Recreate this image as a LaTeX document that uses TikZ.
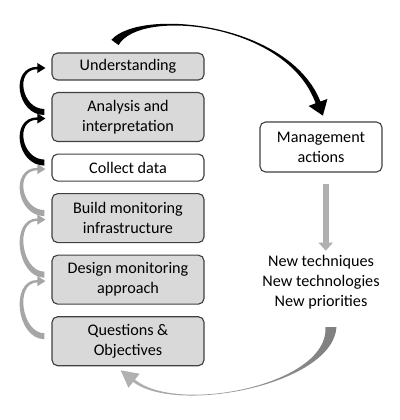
\documentclass[tikz,border=0pt]{standalone}
\usepackage{fontspec}
\setmainfont{Carlito}
\usetikzlibrary{arrows.meta, positioning, calc}
\definecolor{boxgray}{HTML}{D9D9D9}
\definecolor{edgegray}{HTML}{404040}
\definecolor{arcgray}{HTML}{A6A6A6}
\definecolor{lightarc}{HTML}{B0B0B0}
\tikzset{
  stage/.style={draw=edgegray, line width=0.8pt, rounded corners=4pt, fill=boxgray, minimum width=3.8cm, minimum height=0.675cm, align=center, inner sep=2pt, font=\fontsize{11.5pt}{14.2pt}\selectfont},
  stagetwo/.style={stage, minimum height=1.225cm},
  plain/.style={stage, fill=white},
  note/.style={align=center, font=\fontsize{11.5pt}{14.2pt}\selectfont},
  vline/.style={-{Triangle[width=10pt, length=5.7pt]}, line width=4.2pt, draw=lightarc},
}
\newcommand{\backarc}[3]{%
  \fill[#3] ($(#1.west)+(-7,-2)$)
    .. controls +(-28,0) and +(-28,0) .. ($(#2.west)+(-14,0.3)$)
    -- ($(#2.west)+(-14,-3.5)$) -- ($(#2.west)+(-6,1.5)$) -- ($(#2.west)+(-14,6.5)$)
    -- ($(#2.west)+(-14,2.7)$)
    .. controls +(-23,0) and +(-23,0) .. ($(#1.west)+(-7,-8)$) -- cycle;}

\begin{document}
\begin{tikzpicture}[x=0.025cm, y=-0.025cm, node distance=0.285cm]
  \useasboundingbox (0,0) rectangle (400,420);
  \node[stage] (und) at (128,66.5) {Understanding};
  \node[stagetwo, below=of und] (ana) {Analysis and\\interpretation};
  \node[plain, below=of ana] (col) {Collect data};
  \node[stagetwo, below=of col] (bld) {Build monitoring\\infrastructure};
  \node[stagetwo, below=of bld] (dsg) {Design monitoring\\approach};
  \node[stagetwo, below=of dsg] (qst) {Questions \&\\Objectives};
  \node[plain, minimum width=3.05cm, minimum height=1.25cm] (mgmt) at (321,147) {Management\\actions};
  \node[note] (newitems) at (321,282.5) {New techniques\\New technologies\\New priorities};
  \coordinate (loopstart) at (331,327);

  \backarc{ana}{und}{black}
  \backarc{col}{ana}{black}
  \backarc{bld}{col}{arcgray}
  \backarc{dsg}{bld}{arcgray}
  \backarc{qst}{dsg}{arcgray}

  \fill[black] ($(und.north)+(-16.6,-12.6)$)
    .. controls +(28.6,-32.4) and +(-31.5,-79.5) .. ($(mgmt.north)+(-0.6,-19.9)$)
    -- ($(mgmt.north)+(6.4,-22.5)$) -- ($(mgmt.north)+(1.9,-5.8)$) -- ($(mgmt.north)+(-12.4,-15.5)$)
    -- ($(mgmt.north)+(-5.4,-18.1)$)
    .. controls +(-28.5,-80.5) and +(21.4,-37.6) .. ($(und.north)+(-9.4,-7.4)$) -- cycle;

  \draw[vline] ($(mgmt.south)+(4.7,11)$) -- ($(newitems.north)+(4.7,0)$);

  \shade[left color=black!30, right color=black!50] ($(loopstart)+(5.5,0)$)
    .. controls +(-3.75,58) and +(43.9,32.8) .. ($(qst.south)+(5.1,15.7)$)
    -- ($(qst.south)+(0.4,21.5)$) -- ($(qst.south)+(-7.3,4)$) -- ($(qst.south)+(11.6,7.5)$)
    -- ($(qst.south)+(6.9,13.3)$)
    .. controls +(42.1,35.2) and +(3.75,58) .. ($(loopstart)+(-5.5,0)$) -- cycle;
\end{tikzpicture}
\end{document}
